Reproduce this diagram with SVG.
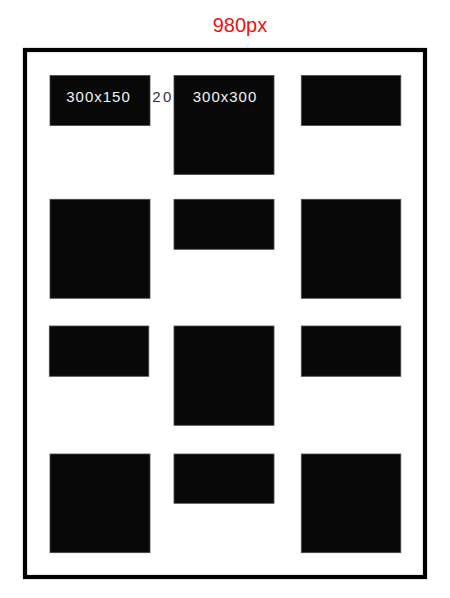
<svg xmlns="http://www.w3.org/2000/svg" width="450" height="598" viewBox="0 0 450 598">
<style>
.box{fill:#080808;stroke:#4a4a4a;stroke-width:0.8}
.lbl{font-family:"Liberation Sans",Arial,sans-serif;font-size:15px;fill:#f2f2f2;letter-spacing:1px;text-anchor:middle}
</style>
<rect width="450" height="598" fill="#ffffff"/>
<text x="240" y="31.5" font-family="Liberation Sans,Arial,sans-serif" font-size="20" fill="#f01010" text-anchor="middle">980px</text>
<g id="frame"><rect x="25" y="50" width="400" height="527" fill="none" stroke="#000" stroke-width="4.2"/></g>
<g id="r1c1"><rect class="box" x="50" y="75.5" width="100" height="50"/><text class="lbl" x="98.5" y="102">300x150</text></g>
<g id="gap"><text x="163" y="102" font-family="Liberation Sans,Arial,sans-serif" font-size="15" fill="#333" letter-spacing="2.5" text-anchor="middle">20</text></g>
<g id="r1c2"><rect class="box" x="174" y="75.5" width="100" height="99"/><text class="lbl" x="225" y="102">300x300</text></g>
<g id="r1c3"><rect class="box" x="301.3" y="75.5" width="99.5" height="50"/></g>
<g id="r2c1"><rect class="box" x="50" y="199.3" width="100" height="99"/></g>
<g id="r2c2"><rect class="box" x="174" y="199.3" width="100" height="50"/></g>
<g id="r2c3"><rect class="box" x="301.3" y="199.3" width="99.5" height="99"/></g>
<g id="r3c1"><rect class="box" x="49.3" y="326" width="99.5" height="50.3"/></g>
<g id="r3c2"><rect class="box" x="174" y="326" width="100" height="99.3"/></g>
<g id="r3c3"><rect class="box" x="301.3" y="326" width="99.5" height="50.3"/></g>
<g id="r4c1"><rect class="box" x="50" y="454" width="100" height="98.7"/></g>
<g id="r4c2"><rect class="box" x="174" y="454" width="100" height="49.3"/></g>
<g id="r4c3"><rect class="box" x="301.3" y="454" width="99.5" height="98.7"/></g>
<g id="connectors"></g>
</svg>
